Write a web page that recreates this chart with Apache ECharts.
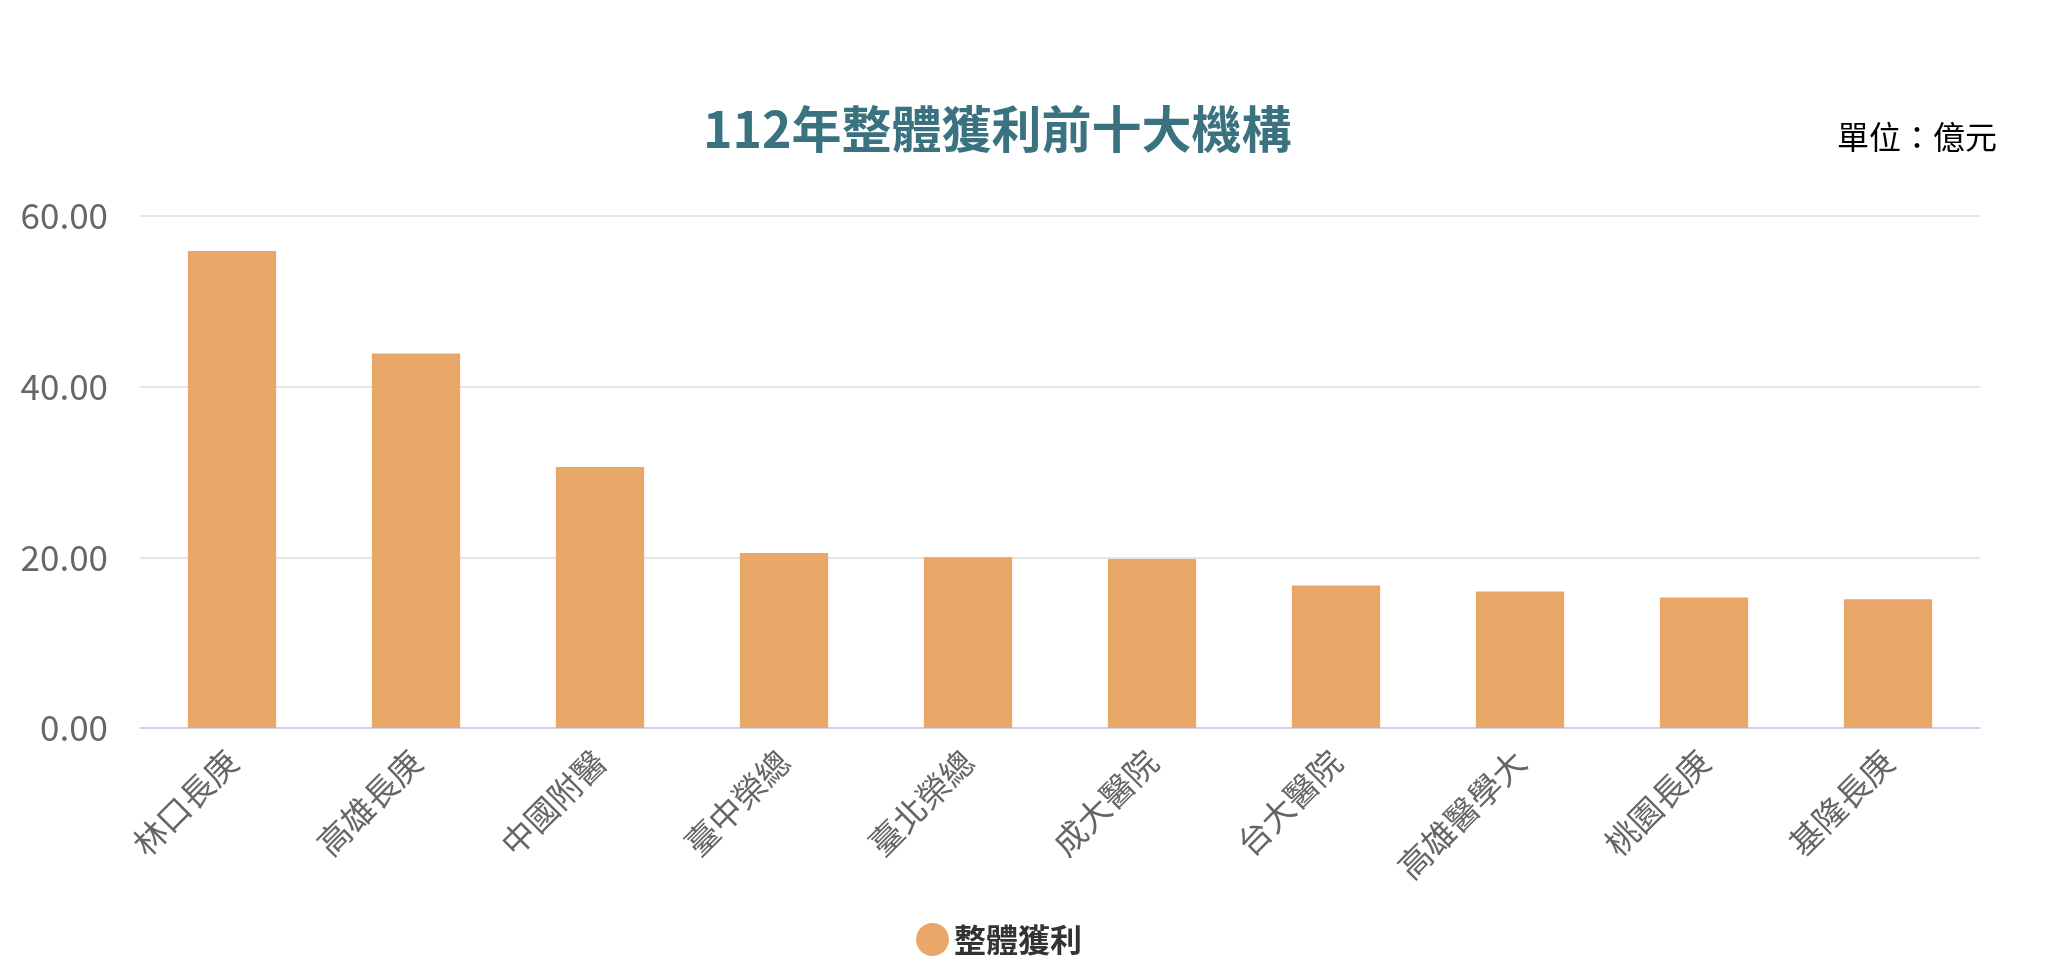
<!DOCTYPE html>
<html>
<head>
<meta charset="utf-8">
<script src="https://cdn.jsdelivr.net/npm/echarts@6/dist/echarts.min.js"></script>
<style>
html,body{margin:0;padding:0;background:#fff;}
#c1{width:2070px;height:978px;}
</style>
</head>
<body>
<div id="c1"></div>
<script>
// 機構名稱
var orgs = ['林口長庚', '高雄長庚', '中國附醫', '臺中榮總', '臺北榮總', '成大醫院', '台大醫院', '高雄醫學大', '桃園長庚', '基隆長庚'];
// 整體獲利(億元)
var profit = [55.9, 43.9, 30.6, 20.5, 20.0, 19.8, 16.7, 16.0, 15.3, 15.1];
var yTicks = [0, 20, 40, 60];
var seriesName = '整體獲利';

showChart();

function showChart() {
	var myChart = echarts.init(document.getElementById('c1'));
	var font = "'Noto Sans CJK TC', 'Noto Sans', sans-serif";
	var option = {
		backgroundColor: '#ffffff',
		color: ['#e9a76a'],
		animation: false,
		title: [{
			text: '112年整體獲利前十大機構',
			left: 703,
			top: 104,
			padding: 0,
			textStyle: { fontFamily: font, fontSize: 50, fontWeight: 'bold', color: '#3b7280' }
		}, {
			text: '單位：億元',
			left: 1837,
			top: 121,
			padding: 0,
			textStyle: { fontFamily: font, fontSize: 32, fontWeight: 'normal', color: '#000' }
		}],
		legend: {
			data: [seriesName],
			left: 911,
			top: 918,
			icon: 'circle',
			itemWidth: 33,
			itemHeight: 33,
			textStyle: { fontFamily: font, fontSize: 32, fontWeight: 'bold', color: '#333' }
		},
		grid: { left: 140, right: 90, top: 216, bottom: 250, containLabel: false },
		xAxis: {
			type: 'category',
			data: orgs,
			axisLine: { lineStyle: { color: '#ccd6eb', width: 2 } },
			axisTick: { show: false },
			axisLabel: { rotate: 45, margin: 28, fontFamily: font, fontSize: 33, color: '#666' }
		},
		yAxis: {
			type: 'value',
			min: yTicks[0],
			max: yTicks[yTicks.length - 1],
			interval: 20,
			axisLine: { show: false },
			axisTick: { show: false },
			splitLine: { lineStyle: { color: '#e6e6e6', width: 2 } },
			axisLabel: {
				margin: 32, fontFamily: font, fontSize: 35, color: '#666',
				formatter: function (v) { return v.toFixed(2); }
			}
		},
		series: [{
			name: seriesName,
			type: 'bar',
			barWidth: '48%',
			data: profit
		}]
	};
	myChart.setOption(option);
}
</script>
</body>
</html>
